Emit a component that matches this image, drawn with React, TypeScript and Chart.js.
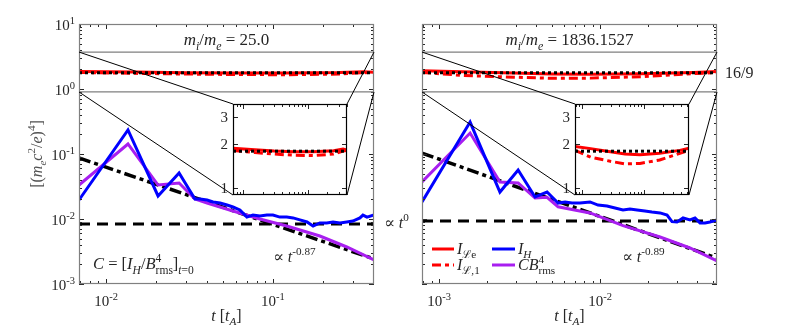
import React, { useEffect, useRef } from "react";
import { Chart, registerables } from "chart.js";
Chart.register(...registerables);

const W = 792;
const H = 333;
const FONT = "'Liberation Serif','DejaVu Serif','Times New Roman',serif";
const TEXT = "#262626";
const BOX = "#808080";
const BLUE = "#0000ff";
const PURPLE = "#a81ef0";
const RED = "#ff0000";
const RATIO = 16 / 9;

// ---------- left panel: m_i/m_e = 25.0 ----------
const L_T_MIN = 0.00689;
const L_T_MAX = 0.403;
const L_IH_T = [0.00689, 0.01354, 0.0205, 0.0274, 0.0341, 0.0366, 0.0403, 0.0438, 0.0482, 0.0531, 0.0576, 0.0634, 0.0698, 0.0759, 0.0835, 0.092, 0.1, 0.11, 0.121, 0.132, 0.145, 0.16, 0.174, 0.191, 0.21, 0.229, 0.252, 0.277, 0.301, 0.332, 0.346, 0.366, 0.403];
const L_IH = [0.0196, 0.234, 0.0226, 0.051, 0.0203, 0.0203, 0.0196, 0.0183, 0.0176, 0.0164, 0.0153, 0.0138, 0.0107, 0.0115, 0.0111, 0.0115, 0.0115, 0.0107, 0.0107, 0.0104, 0.0097, 0.009, 0.0078, 0.0087, 0.0087, 0.009, 0.0087, 0.009, 0.0093, 0.0104, 0.0115, 0.0107, 0.0115];
const L_CB_T = [0.00689, 0.01354, 0.0205, 0.0274, 0.0341, 0.0403, 0.0576, 0.0835, 0.121, 0.191, 0.277, 0.403];
const L_CB = [0.0333, 0.1426, 0.0333, 0.0358, 0.0203, 0.0176, 0.0133, 0.01, 0.0078, 0.00547, 0.00371, 0.00234];
const L_FIT_T = [0.00689, 0.403];
const L_FIT = [0.087, 0.00243];
const L_FLAT = 0.0084;
const L_IL_T = [0.00689, 0.015, 0.03, 0.06, 0.12, 0.25, 0.35, 0.403];
const L_ILE = [1.86, 1.82, 1.78, 1.76, 1.76, 1.79, 1.84, 1.81];
const L_IL1 = [1.8, 1.74, 1.7, 1.67, 1.66, 1.7, 1.78, 1.8];
const L_X_MAJOR = [0.01, 0.1];
const L_X_LABELS = ["-2", "-1"];
const L_TITLE = "25.0";
const L_EXP = "-0.87";

// ---------- right panel: m_i/m_e = 1836.1527 ----------
const R_T_MIN = 0.000784;
const R_T_MAX = 0.0533;
const R_IH_T = [0.000784, 0.00156, 0.00239, 0.0031, 0.00395, 0.00469, 0.00549, 0.00607, 0.0067, 0.00751, 0.00867, 0.00972, 0.01105, 0.0124, 0.0139, 0.01535, 0.017, 0.019, 0.021, 0.0236, 0.0261, 0.028, 0.0301, 0.0328, 0.0362, 0.0389, 0.0418, 0.0449, 0.0482, 0.0533];
const R_IH = [0.0183, 0.31, 0.026, 0.0568, 0.0218, 0.026, 0.0176, 0.0183, 0.0176, 0.0176, 0.0183, 0.0164, 0.0158, 0.0148, 0.0138, 0.0143, 0.0138, 0.0133, 0.0128, 0.0124, 0.0115, 0.0091, 0.009, 0.0104, 0.0097, 0.0104, 0.0087, 0.0087, 0.009, 0.0097];
const R_CB_T = [0.000784, 0.00156, 0.00239, 0.0031, 0.00395, 0.00469, 0.00549, 0.00867, 0.0139, 0.0236, 0.0362, 0.0533];
const R_CB = [0.0371, 0.21, 0.0371, 0.0358, 0.021, 0.0216, 0.0154, 0.0124, 0.0079, 0.00529, 0.00358, 0.00226];
const R_FIT_T = [0.000784, 0.0533];
const R_FIT = [0.1035, 0.0025];
const R_FLAT = 0.0093;
const R_IL_T = [0.000784, 0.0014, 0.0029, 0.005, 0.0087, 0.018, 0.038, 0.0533];
const R_ILE = [1.91, 1.85, 1.76, 1.7, 1.68, 1.72, 1.8, 1.86];
const R_IL1 = [1.8, 1.62, 1.52, 1.46, 1.47, 1.55, 1.72, 1.8];
const R_X_MAJOR = [0.001, 0.01];
const R_X_LABELS = ["-3", "-2"];
const R_TITLE = "1836.1527";
const R_EXP = "-0.89";

// ---------- axes ----------
const Y_MIN = 1e-3;
const Y_MAX = 1e1;
const Y_MAJOR = [1e-3, 1e-2, 1e-1, 1e0, 1e1];
const Y_LABELS = ["-3", "-2", "-1", "0", "1"];
const ZOOM_MIN = 0.9;
const ZOOM_MAX = 3.7;
const INSET_Y_TICKS = [1, 2, 3];
const INSET_Y_LABELS = ["1", "2", "3"];

type Area = { l: number; t: number; r: number; b: number };
const LEFT_AREA: Area = { l: 79, t: 24, r: 374, b: 284 };
const RIGHT_AREA: Area = { l: 422, t: 24, r: 717, b: 284 };
const LEFT_INSET: Area = { l: 233, t: 104, r: 347, b: 195 };
const RIGHT_INSET: Area = { l: 575, t: 104, r: 689, b: 195 };

type Seg = { s: string; it?: boolean; sub?: boolean; sup?: boolean; back?: boolean };

function drawRich(ctx: CanvasRenderingContext2D, segs: Seg[], x: number, y: number, size: number, align: "left" | "center" | "right", color = TEXT) {
  const pos: { g: Seg; fs: number; start: number; dy: number }[] = [];
  let pen = 0;
  let prevStart = 0;
  let maxX = 0;
  for (const g of segs) {
    const small = g.sub || g.sup;
    const fs = small ? size * 0.7 : size;
    ctx.font = `${g.it ? "italic " : ""}${fs}px ${FONT}`;
    const w = ctx.measureText(g.s).width;
    const start = g.back ? prevStart : pen;
    const dy = g.sub ? size * 0.28 : g.sup ? -size * 0.42 : 0;
    pos.push({ g, fs, start, dy });
    prevStart = start;
    pen = g.back ? Math.max(pen, start + w) : start + w;
    maxX = Math.max(maxX, pen);
  }
  const off = align === "left" ? 0 : align === "center" ? -maxX / 2 : -maxX;
  ctx.save();
  ctx.fillStyle = color;
  ctx.textBaseline = "alphabetic";
  ctx.textAlign = "left";
  for (const p of pos) {
    ctx.font = `${p.g.it ? "italic " : ""}${p.fs}px ${FONT}`;
    ctx.fillText(p.g.s, x + off + p.start, y + p.dy);
  }
  ctx.restore();
}

function logMinor(min: number, max: number) {
  const out: { v: number; major: boolean }[] = [];
  for (let e = Math.floor(Math.log10(min)); e <= Math.ceil(Math.log10(max)); e++) {
    for (let k = 1; k < 10; k++) {
      const v = k * Math.pow(10, e);
      if (v >= min * 0.999 && v <= max * 1.001) out.push({ v, major: k === 1 });
    }
  }
  return out;
}

function drawFrame(chart: any, xTicks: { v: number; major: boolean }[], yTicks: { v: number; major: boolean }[], boxColor: string, tickColor: string) {
  const { ctx, chartArea: a, scales } = chart;
  const x = scales.x;
  const y = scales.y;
  ctx.save();
  ctx.strokeStyle = tickColor;
  ctx.lineWidth = 1;
  ctx.beginPath();
  for (const t of xTicks) {
    const px = Math.round(x.getPixelForValue(t.v)) + 0.5;
    const len = t.major ? 5 : 3;
    ctx.moveTo(px, a.bottom);
    ctx.lineTo(px, a.bottom - len);
    ctx.moveTo(px, a.top);
    ctx.lineTo(px, a.top + len);
  }
  for (const t of yTicks) {
    const py = Math.round(y.getPixelForValue(t.v)) + 0.5;
    const len = t.major ? 5 : 3;
    ctx.moveTo(a.left, py);
    ctx.lineTo(a.left + len, py);
    ctx.moveTo(a.right, py);
    ctx.lineTo(a.right - len, py);
  }
  ctx.stroke();
  ctx.strokeStyle = boxColor;
  ctx.lineWidth = 1.2;
  ctx.strokeRect(a.left + 0.5, a.top + 0.5, a.right - a.left - 1, a.bottom - a.top - 1);
  ctx.restore();
}

function pts(ts: number[], vs: number[]) {
  return ts.map((t, i) => ({ x: t, y: vs[i] }));
}

function line(data: any[], color: string, width: number, dash: number[], order: number) {
  return {
    data,
    borderColor: color,
    borderWidth: width,
    borderDash: dash,
    order,
    pointRadius: 0,
    fill: false,
    tension: 0,
    clip: 0,
  };
}

type Panel = {
  tMin: number; tMax: number;
  ihT: number[]; ih: number[]; cbT: number[]; cb: number[];
  fitT: number[]; fit: number[]; flat: number;
  ilT: number[]; ile: number[]; il1: number[];
  xMajor: number[]; xLabels: string[]; title: string; exp: string;
  area: Area; inset: Area; left: boolean;
};

const LEFT: Panel = {
  tMin: L_T_MIN, tMax: L_T_MAX, ihT: L_IH_T, ih: L_IH, cbT: L_CB_T, cb: L_CB,
  fitT: L_FIT_T, fit: L_FIT, flat: L_FLAT, ilT: L_IL_T, ile: L_ILE, il1: L_IL1,
  xMajor: L_X_MAJOR, xLabels: L_X_LABELS, title: L_TITLE, exp: L_EXP,
  area: LEFT_AREA, inset: LEFT_INSET, left: true,
};
const RIGHT: Panel = {
  tMin: R_T_MIN, tMax: R_T_MAX, ihT: R_IH_T, ih: R_IH, cbT: R_CB_T, cb: R_CB,
  fitT: R_FIT_T, fit: R_FIT, flat: R_FLAT, ilT: R_IL_T, ile: R_ILE, il1: R_IL1,
  xMajor: R_X_MAJOR, xLabels: R_X_LABELS, title: R_TITLE, exp: R_EXP,
  area: RIGHT_AREA, inset: RIGHT_INSET, left: false,
};

function redSets(p: Panel) {
  return [
    line([{ x: p.tMin, y: RATIO }, { x: p.tMax, y: RATIO }], "#000000", 3, [3, 3], 5),
    line(pts(p.ilT, p.il1), RED, 3, [9, 4, 4, 4], 6),
    line(pts(p.ilT, p.ile), RED, 3, [], 7),
  ];
}

function mainSets(p: Panel) {
  return [
    line(pts(p.ihT, p.ih), BLUE, 3, [], 1),
    line(pts(p.cbT, p.cb), PURPLE, 3, [], 2),
    line(pts(p.fitT, p.fit), "#000000", 3.5, [12, 4, 4, 4], 3),
    line([{ x: p.tMin, y: p.flat }, { x: p.tMax, y: p.flat }], "#000000", 3, [11, 7], 4),
    ...redSets(p),
  ];
}

function makeChart(canvas: HTMLCanvasElement, area: Area, xr: number[], yr: number[], datasets: any[], extra: (c: any) => void) {
  return new Chart(canvas, {
    type: "line",
    data: { datasets },
    options: {
      animation: false,
      responsive: false,
      devicePixelRatio: 1,
      events: [],
      layout: { padding: { left: area.l, top: area.t, right: W - area.r, bottom: H - area.b } },
      scales: {
        x: { type: "logarithmic", min: xr[0], max: xr[1], display: false },
        y: { type: "logarithmic", min: yr[0], max: yr[1], display: false },
      },
      plugins: { legend: { display: false }, tooltip: { enabled: false } },
    } as any,
    plugins: [
      {
        id: "frame",
        beforeDatasetsDraw(chart: any) {
          const { ctx, chartArea: a } = chart;
          ctx.save();
          ctx.fillStyle = "#ffffff";
          ctx.fillRect(a.left, a.top, a.right - a.left, a.bottom - a.top);
          ctx.restore();
        },
        afterDraw(chart: any) {
          extra(chart);
        },
      },
    ],
  } as any);
}

function drawMain(chart: any, p: Panel) {
  const { ctx, chartArea: a, scales } = chart;
  const x = scales.x;
  const y = scales.y;
  const yMinor = logMinor(Y_MIN, Y_MAX);
  drawFrame(chart, logMinor(p.tMin, p.tMax), yMinor, BOX, TEXT);

  // zoom band and connectors
  const yTop = y.getPixelForValue(ZOOM_MAX);
  const yBot = y.getPixelForValue(ZOOM_MIN);
  const ins = p.inset;
  ctx.save();
  ctx.strokeStyle = BOX;
  ctx.lineWidth = 1.2;
  ctx.beginPath();
  ctx.moveTo(a.left, yTop); ctx.lineTo(a.right, yTop);
  ctx.moveTo(a.left, yBot); ctx.lineTo(a.right, yBot);
  ctx.stroke();
  ctx.strokeStyle = "#000000";
  ctx.lineWidth = 1;
  ctx.beginPath();
  ctx.moveTo(a.left, yTop); ctx.lineTo(ins.l, ins.t);
  ctx.moveTo(a.left, yBot); ctx.lineTo(ins.l, ins.b);
  ctx.moveTo(a.right, yTop); ctx.lineTo(ins.r, ins.t);
  ctx.moveTo(a.right, yBot); ctx.lineTo(ins.r, ins.b);
  ctx.stroke();
  ctx.restore();

  // x tick labels
  p.xMajor.forEach((v, i) => {
    const px = x.getPixelForValue(v);
    drawRich(ctx, [{ s: "10" }, { s: p.xLabels[i], sup: true }], px, 306, 15, "center");
  });
  // y tick labels on left panel
  if (p.left) {
    Y_MAJOR.forEach((v, i) => {
      const py = y.getPixelForValue(v);
      drawRich(ctx, [{ s: "10" }, { s: Y_LABELS[i], sup: true }], a.left - 4, py + 6, 15, "right");
    });
    ctx.save();
    ctx.translate(37, (a.top + a.bottom) / 2);
    ctx.rotate(-Math.PI / 2);
    drawRich(ctx, [
      { s: "[(" }, { s: "m", it: true }, { s: "e", it: true, sub: true }, { s: "c", it: true },
      { s: "2", sup: true }, { s: "/" }, { s: "e", it: true }, { s: ")" }, { s: "4", sup: true }, { s: "]" },
    ], 0, 5, 16, "center", "#505050");
    ctx.restore();
    drawRich(ctx, [
      { s: "C", it: true }, { s: " = [" }, { s: "I", it: true }, { s: "H", it: true, sub: true }, { s: "/" },
      { s: "B", it: true }, { s: "4", sup: true }, { s: "rms", sub: true, back: true }, { s: "]" },
      { s: "t", it: true, sub: true }, { s: "=0", sub: true },
    ], 93, 269, 16.5, "left");
    drawRich(ctx, [{ s: "∝ " }, { s: "t", it: true }, { s: "0", sup: true }], 384, 228, 16, "left");
  } else {
    drawRich(ctx, [{ s: "16/9" }], 725, 78, 16, "left");
    // legend
    const rows = [
      { y: 249, dash: [] as number[], color: RED, label: [{ s: "I", it: true }, { s: "ℒ", sub: true }, { s: "e", sub: true }] as Seg[] },
      { y: 265, dash: [9, 4, 4, 4], color: RED, label: [{ s: "I", it: true }, { s: "ℒ", sub: true }, { s: ",1", sub: true }] as Seg[] },
    ];
    const rows2 = [
      { y: 249, color: BLUE, label: [{ s: "I", it: true }, { s: "H", it: true, sub: true }] as Seg[] },
      { y: 265, color: PURPLE, label: [{ s: "CB", it: true }, { s: "4", sup: true }, { s: "rms", sub: true, back: true }] as Seg[] },
    ];
    ctx.save();
    ctx.lineWidth = 3;
    for (const r of rows) {
      ctx.strokeStyle = r.color;
      ctx.setLineDash(r.dash);
      ctx.beginPath(); ctx.moveTo(432, r.y); ctx.lineTo(454, r.y); ctx.stroke();
    }
    ctx.setLineDash([]);
    for (const r of rows2) {
      ctx.strokeStyle = r.color;
      ctx.beginPath(); ctx.moveTo(492, r.y); ctx.lineTo(515, r.y); ctx.stroke();
    }
    ctx.restore();
    for (const r of rows) drawRich(ctx, r.label, 457, r.y + 5, 16, "left");
    for (const r of rows2) drawRich(ctx, r.label, 518, r.y + 5, 16, "left");
  }
  // title
  drawRich(ctx, [
    { s: "m", it: true }, { s: "i", it: true, sub: true }, { s: "/" }, { s: "m", it: true },
    { s: "e", it: true, sub: true }, { s: " = " + p.title },
  ], (a.left + a.right) / 2, 45, 17, "center");
  // x label
  drawRich(ctx, [{ s: "t", it: true }, { s: " [" }, { s: "t", it: true }, { s: "A", it: true, sub: true }, { s: "]" }],
    (a.left + a.right) / 2, 321, 16, "center");
  // slope label
  drawRich(ctx, [{ s: "∝ " }, { s: "t", it: true }, { s: p.exp, sup: true }], p.left ? 273 : 622, 262, 16, "left");
}

function drawInset(chart: any, p: Panel) {
  const { ctx, chartArea: a, scales } = chart;
  const y = scales.y;
  const yt = INSET_Y_TICKS.map((v) => ({ v, major: true }));
  drawFrame(chart, logMinor(p.tMin, p.tMax), yt, "#000000", TEXT);
  INSET_Y_TICKS.forEach((v, i) => {
    drawRich(ctx, [{ s: INSET_Y_LABELS[i] }], a.left - 5, y.getPixelForValue(v) + 5, 15, "right");
  });
}

export default function App() {
  const r0 = useRef<HTMLCanvasElement>(null);
  const r1 = useRef<HTMLCanvasElement>(null);
  const r2 = useRef<HTMLCanvasElement>(null);
  const r3 = useRef<HTMLCanvasElement>(null);
  useEffect(() => {
    document.body.style.margin = "0";
    const charts = [
      makeChart(r0.current!, LEFT.area, [LEFT.tMin, LEFT.tMax], [Y_MIN, Y_MAX], mainSets(LEFT), (c) => drawMain(c, LEFT)),
      makeChart(r1.current!, RIGHT.area, [RIGHT.tMin, RIGHT.tMax], [Y_MIN, Y_MAX], mainSets(RIGHT), (c) => drawMain(c, RIGHT)),
      makeChart(r2.current!, LEFT.inset, [LEFT.tMin, LEFT.tMax], [ZOOM_MIN, ZOOM_MAX], redSets(LEFT), (c) => drawInset(c, LEFT)),
      makeChart(r3.current!, RIGHT.inset, [RIGHT.tMin, RIGHT.tMax], [ZOOM_MIN, ZOOM_MAX], redSets(RIGHT), (c) => drawInset(c, RIGHT)),
    ];
    return () => charts.forEach((c) => c.destroy());
  }, []);
  const style: React.CSSProperties = { position: "absolute", left: 0, top: 0, width: W, height: H };
  return (
    <div style={{ position: "relative", width: W, height: H, background: "#ffffff", overflow: "hidden" }}>
      <canvas ref={r0} width={W} height={H} style={style} />
      <canvas ref={r1} width={W} height={H} style={style} />
      <canvas ref={r2} width={W} height={H} style={style} />
      <canvas ref={r3} width={W} height={H} style={style} />
    </div>
  );
}
